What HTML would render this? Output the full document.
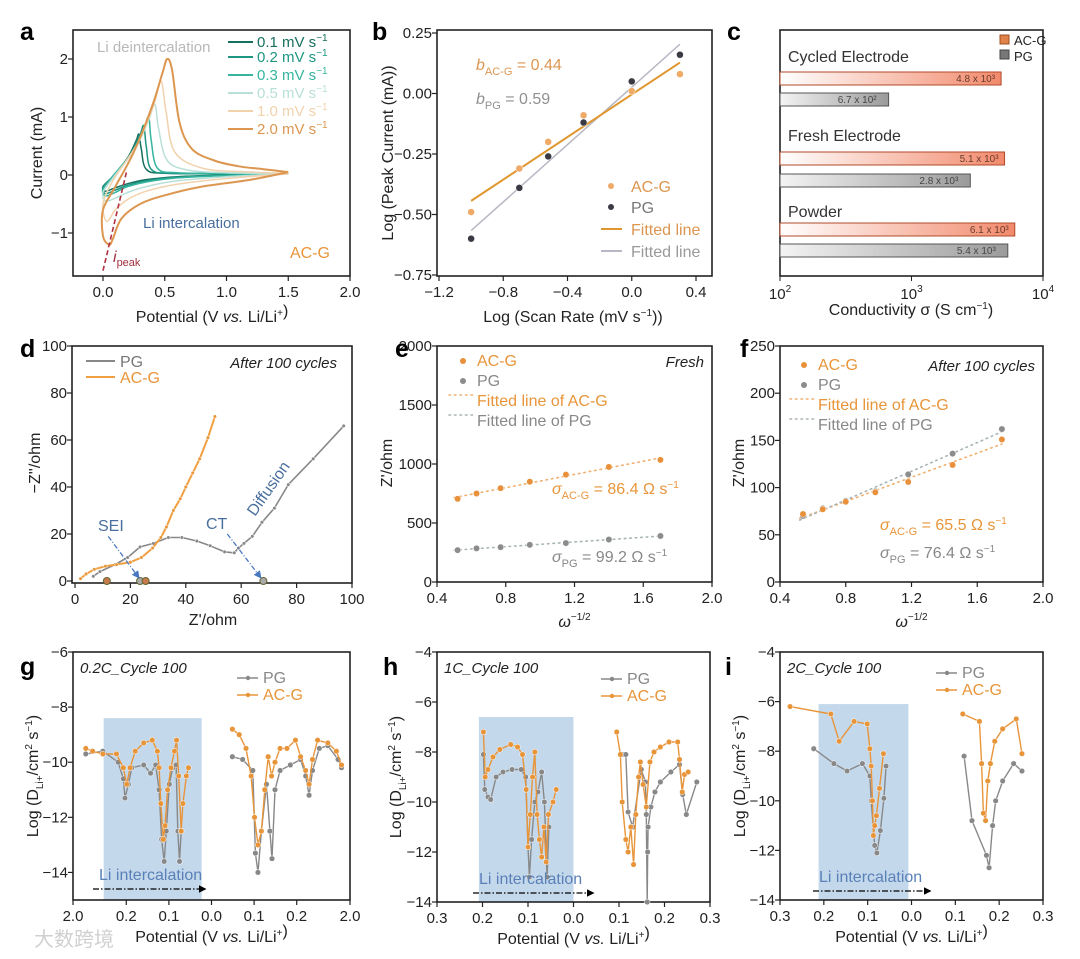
<!DOCTYPE html>
<html><head><meta charset="utf-8"><style>
html,body{margin:0;padding:0;background:#fff;}
svg{display:block;font-family:"Liberation Sans","Noto Sans CJK SC",sans-serif;}
</style></head><body>
<svg id="fig" width="1080" height="959" viewBox="0 0 1080 959" xmlns="http://www.w3.org/2000/svg">
<defs>
<linearGradient id="gOr" x1="0" x2="1"><stop offset="0" stop-color="#fff"/><stop offset="1" stop-color="#f28a6c"/></linearGradient>
<linearGradient id="gGr" x1="0" x2="1"><stop offset="0" stop-color="#f4f4f4"/><stop offset="1" stop-color="#9a9a9a"/></linearGradient>
<marker id="arB" viewBox="0 0 10 10" refX="8" refY="5" markerWidth="6" markerHeight="6" orient="auto"><path d="M0,0L10,5L0,10z" fill="#4a78c0"/></marker>
<marker id="arK" viewBox="0 0 10 10" refX="8" refY="5" markerWidth="6" markerHeight="6" orient="auto"><path d="M0,0L10,5L0,10z" fill="#000"/></marker>
</defs>
</svg>
<script>
// ---------- data ----------
const aRates = ["0.1","0.2","0.3","0.5","1.0","2.0"];
const aColors = ["#17705f","#1f9682","#35b5a0","#b9e0d8","#f2d2ad","#dc9650"];
const aCurve01 = [[1.5,0.02],[1.0,0.0],[0.6,-0.03],[0.35,-0.08],[0.2,-0.15],[0.1,-0.22],[0.02,-0.28],[0.0,-0.2],[0.08,-0.02],[0.2,0.3],[0.27,0.6],[0.29,0.7],[0.31,0.45],[0.35,0.1],[0.5,0.03],[1.0,0.02],[1.5,0.02]];
const aCurve02 = [[1.5,0.02],[1.0,0.0],[0.6,-0.04],[0.35,-0.1],[0.2,-0.18],[0.1,-0.26],[0.02,-0.32],[0.0,-0.22],[0.08,-0.02],[0.22,0.35],[0.3,0.7],[0.33,0.85],[0.35,0.5],[0.39,0.1],[0.55,0.03],[1.0,0.02],[1.5,0.02]];
const aCurve03 = [[1.5,0.02],[1.0,-0.01],[0.6,-0.05],[0.35,-0.12],[0.2,-0.2],[0.1,-0.3],[0.02,-0.36],[0.0,-0.25],[0.08,-0.02],[0.24,0.4],[0.33,0.8],[0.37,1.0],[0.39,0.6],[0.44,0.12],[0.6,0.04],[1.0,0.03],[1.5,0.02]];
const aCurve05 = [[1.5,0.02],[1.0,-0.03],[0.6,-0.1],[0.35,-0.2],[0.2,-0.3],[0.1,-0.4],[0.02,-0.45],[0.0,-0.3],[0.08,-0.05],[0.26,0.45],[0.37,0.95],[0.42,1.22],[0.45,0.8],[0.52,0.25],[0.7,0.08],[1.0,0.04],[1.5,0.02]];
const aCurve10 = [[1.5,0.02],[1.0,-0.06],[0.6,-0.16],[0.35,-0.28],[0.2,-0.42],[0.1,-0.6],[0.03,-0.8],[0.0,-0.5],[0.08,-0.1],[0.28,0.55],[0.41,1.2],[0.47,1.62],[0.51,1.1],[0.58,0.4],[0.8,0.12],[1.1,0.06],[1.5,0.03]];
const aCurve20 = [[1.5,0.05],[1.2,-0.08],[0.8,-0.2],[0.5,-0.35],[0.3,-0.5],[0.15,-0.75],[0.08,-1.1],[0.05,-1.2],[0.0,-1.05],[0.0,-0.6],[0.1,-0.2],[0.25,0.4],[0.4,1.2],[0.48,1.75],[0.52,2.0],[0.56,1.8],[0.62,0.9],[0.72,0.45],[0.9,0.25],[1.1,0.15],[1.3,0.1],[1.5,0.05]];
const aCurves = [aCurve01,aCurve02,aCurve03,aCurve05,aCurve10,aCurve20];

const bLogRate = [-1,-0.7,-0.52,-0.3,0,0.3];
const bACG = [-0.49,-0.31,-0.2,-0.09,0.01,0.08];
const bPG = [-0.6,-0.39,-0.26,-0.12,0.05,0.16];

const cCategories = ["Cycled Electrode","Fresh Electrode","Powder"];
const cACG = [4800,5100,6100];
const cPG = [670,2800,5400];
const cACGLabels = ["4.8 x 10³","5.1 x 10³","6.1 x 10³"];
const cPGLabels = ["6.7 x 10²","2.8 x 10³","5.4 x 10³"];

const dPG = [[6.6,2],[9,4],[14.5,7],[19,10],[23.5,14.5],[28.3,16],[33.7,18.5],[38.6,18.5],[44,17],[48.8,15],[54,12.4],[57.5,12],[59,14],[61,16],[64,19],[67.5,25],[72,31],[77,41],[86,52],[97,66]];
const dACG = [[2,1],[4,3],[7,5],[11,6.3],[15,7],[20,8],[24,10],[28,14],[31,18.5],[33,23],[35.5,30],[38,35],[40,40],[42.5,46],[45,52],[48,61],[50.5,70]];
const dIntercepts = [11.5,23.5,25.5,68];

const eX = [0.52,0.63,0.77,0.94,1.15,1.40,1.70];
const eACG = [705,750,795,850,910,975,1035];
const ePG = [270,285,295,315,330,360,390];
const fX = [0.54,0.66,0.80,0.98,1.18,1.45,1.75];
const fACG = [72,77,85,95,106,124,151];
const fPG = [70,78,86,96,114,136,162];

// bottom row: x given in axis-position units (tick positions listed in *Ticks arrays)
const gTicks = [0,1.25,2.25,3.25,4.25,5.25,6.5];
const gTickLabels = ["2.0","0.2","0.1","0.0","0.1","0.2","2.0"];
const gACG_L = [[0.30,-9.5],[0.46,-9.6],[0.70,-9.7],[1.02,-9.7],[1.18,-10.2],[1.26,-10.8],[1.34,-10.2],[1.46,-9.6],[1.66,-9.3],[1.86,-9.2],[1.98,-9.6],[2.02,-10.2],[2.06,-11.5],[2.12,-12.8],[2.16,-12.3],[2.22,-11],[2.30,-10.2],[2.38,-9.6],[2.43,-9.2],[2.48,-10.5],[2.54,-12.5],[2.58,-11.5],[2.66,-10.5],[2.71,-10.2]];
const gPG_L = [[0.30,-9.7],[0.70,-9.6],[1.06,-10],[1.18,-10.6],[1.22,-11.3],[1.30,-10.8],[1.38,-10.2],[1.66,-10.1],[1.82,-10.4],[1.94,-10.1],[2.02,-11],[2.08,-12.8],[2.14,-13.6],[2.19,-12.5],[2.26,-10.8],[2.34,-10.2],[2.42,-10.1],[2.46,-12.5],[2.50,-13.6],[2.54,-12.5]];
const gACG_R = [[3.74,-8.8],[3.90,-9],[4.06,-9.5],[4.18,-10.5],[4.26,-12],[4.34,-13],[4.42,-12.5],[4.50,-11],[4.58,-9.8],[4.66,-10.5],[4.74,-10],[4.86,-9.5],[5.02,-9.5],[5.22,-9.2],[5.34,-9.8],[5.46,-10.3],[5.54,-10.8],[5.62,-9.9],[5.74,-9.2],[5.98,-9.3],[6.18,-9.6],[6.30,-10.1]];
const gPG_R = [[3.74,-9.8],[3.98,-9.9],[4.22,-10.3],[4.28,-13.3],[4.34,-14],[4.42,-12.5],[4.54,-10.8],[4.62,-12.5],[4.67,-13.5],[4.74,-11],[4.86,-10.3],[5.10,-10.1],[5.34,-9.9],[5.46,-10.5],[5.54,-11.2],[5.62,-10.3],[5.78,-9.5],[5.98,-9.4],[6.22,-9.9],[6.30,-10.2]];

const hTicks = [0,1,2,3,4,5,6];
const hTickLabels = ["0.3","0.2","0.1","0.0","0.1","0.2","0.3"];
const hACG_L = [[1.02,-7.2],[1.06,-9],[1.12,-8.7],[1.23,-8.2],[1.38,-7.9],[1.62,-7.7],[1.77,-7.8],[1.88,-8.1],[1.96,-9.5],[2.0,-11.8],[2.05,-10.5],[2.1,-9],[2.15,-8],[2.2,-10.5],[2.25,-11.5],[2.3,-12.2],[2.35,-11],[2.4,-12.4],[2.45,-10.5],[2.55,-10],[2.62,-9.5]];
const hPG_L = [[1.02,-8.1],[1.05,-9.5],[1.12,-9.8],[1.18,-9.9],[1.3,-9],[1.45,-8.8],[1.65,-8.7],[1.85,-8.7],[1.95,-9],[2.0,-11.8],[2.03,-13],[2.08,-11.5],[2.15,-10],[2.22,-9.6],[2.3,-8.8],[2.36,-10],[2.42,-13],[2.46,-11]];
const hACG_R = [[3.95,-7.2],[4.03,-8.1],[4.07,-10],[4.15,-11.5],[4.2,-12],[4.26,-11],[4.32,-12.5],[4.37,-10.5],[4.43,-9],[4.47,-8.4],[4.53,-9.3],[4.6,-10.2],[4.68,-8.4],[4.77,-8],[4.91,-7.8],[5.1,-7.6],[5.29,-7.6],[5.33,-8.3],[5.39,-9.6],[5.44,-8.9],[5.52,-8.8]];
const hPG_R = [[4.07,-8.1],[4.15,-8.1],[4.2,-10.4],[4.3,-11],[4.49,-8.7],[4.58,-9.2],[4.6,-10.5],[4.62,-14],[4.63,-12],[4.64,-11],[4.70,-10.2],[4.79,-9.6],[4.91,-9.2],[5.14,-8.8],[5.33,-8.5],[5.40,-9.7],[5.48,-10.5],[5.71,-9.2]];

const iTicks = [0,1,2,3,4,5,6];
const iTickLabels = ["0.3","0.2","0.1","0.0","0.1","0.2","0.3"];
const iACG_L = [[0.23,-6.2],[1.16,-6.5],[1.35,-7.6],[1.69,-6.8],[1.99,-6.9],[2.05,-7.9],[2.08,-8.6],[2.11,-10],[2.13,-11.4],[2.16,-11],[2.2,-10.6],[2.27,-9.5],[2.36,-8.1]];
const iPG_L = [[0.77,-7.9],[1.23,-8.5],[1.53,-8.8],[1.88,-8.5],[2.05,-9],[2.08,-10],[2.16,-11.8],[2.21,-12.1],[2.29,-11.2],[2.37,-9.9],[2.42,-8.6]];
const iACG_R = [[4.17,-6.5],[4.55,-6.8],[4.6,-8.5],[4.64,-10.5],[4.69,-10.8],[4.74,-9.2],[4.8,-8.5],[4.9,-7.6],[5.08,-7.1],[5.39,-6.7],[5.52,-8.1]];
const iPG_R = [[4.2,-8.2],[4.38,-10.8],[4.71,-12.2],[4.77,-12.7],[4.85,-11],[4.92,-10],[5.08,-9.2],[5.33,-8.5],[5.52,-8.8]];

// ---------- helpers ----------
const NS="http://www.w3.org/2000/svg";
const svg=document.getElementById('fig');
const OR="#e8953a", GR="#8a8a8a";
const TF=15;
function el(tag,attrs,parent,text){const e=document.createElementNS(NS,tag);for(const k in attrs)e.setAttribute(k,attrs[k]);if(text!==undefined)e.textContent=text;(parent||svg).appendChild(e);return e;}
function lin(d0,d1,r0,r1){return v=>r0+(v-d0)*(r1-r0)/(d1-d0);}
function logS(d0,d1,r0,r1){return v=>r0+(Math.log10(v)-Math.log10(d0))*(r1-r0)/(Math.log10(d1)-Math.log10(d0));}
function grp(name){const g=el('g',{});return g;}
function frame(g,x0,y0,x1,y1){const r=el('rect',{x:x0,y:y0,width:x1-x0,height:y1-y0,fill:'none',stroke:'#222','stroke-width':1.6},g);}
function xTicks(g,xs,vals,labels,y){vals.forEach((v,i)=>{const x=xs(v);el('line',{x1:x,x2:x,y1:y,y2:y+5,stroke:'#222','stroke-width':1.2},g);const t=el('text',{x:x,y:y+21,'text-anchor':'middle','font-size':TF,fill:'#222'},g,labels[i]);});}
function yTicks(g,ys,vals,labels,x){vals.forEach((v,i)=>{const y=ys(v);el('line',{x1:x-5,x2:x,y1:y,y2:y,stroke:'#222','stroke-width':1.2},g);const t=el('text',{x:x-5,y:y+5,'text-anchor':'end','font-size':TF,fill:'#222'},g,labels[i]);});}
function letter(ch,x,y){const t=el('text',{x:x,y:y,'font-size':25,'font-weight':'bold',fill:'#000'},svg,ch);}
function ylab(g,html,x,y){const t=el('text',{x:0,y:0,transform:`translate(${x},${y}) rotate(-90)`,'text-anchor':'middle','font-size':16,fill:'#222'},g);t.innerHTML=html;return t;}
function xlab(g,html,x,y){const t=el('text',{x:x,y:y,'text-anchor':'middle','font-size':16,fill:'#222'},g);t.innerHTML=html;return t;}
function txt(g,s,x,y,attrs,name){const a=Object.assign({x:x,y:y,'font-size':16,fill:'#222'},attrs||{});const t=el('text',a,g);t.innerHTML=s;return t;}
function polyline(g,pts,xs,ys,color,w,name){const p=el('polyline',{points:pts.map(p=>xs(p[0]).toFixed(1)+','+ys(p[1]).toFixed(1)).join(' '),fill:'none',stroke:color,'stroke-width':w||1.4,'stroke-linejoin':'round'},g);return p;}
function dots(g,pts,xs,ys,color,r,name){pts.forEach(p=>{const c=el('circle',{cx:xs(p[0]),cy:ys(p[1]),r:r||2.6,fill:color,stroke:'#fff','stroke-width':0.5},g);});}
function smooth(pts){let d='M'+pts[0][0]+','+pts[0][1];for(let i=0;i<pts.length-1;i++){const p0=pts[i-1]||pts[i],p1=pts[i],p2=pts[i+1],p3=pts[i+2]||p2;const c1=[p1[0]+(p2[0]-p0[0])/6,p1[1]+(p2[1]-p0[1])/6],c2=[p2[0]-(p3[0]-p1[0])/6,p2[1]-(p3[1]-p1[1])/6];d+=`C${c1[0].toFixed(1)},${c1[1].toFixed(1)} ${c2[0].toFixed(1)},${c2[1].toFixed(1)} ${p2[0].toFixed(1)},${p2[1].toFixed(1)}`;}return d;}
function fit(xs,ys){const n=xs.length,mx=xs.reduce((a,b)=>a+b)/n,my=ys.reduce((a,b)=>a+b)/n;let sxy=0,sxx=0;for(let i=0;i<n;i++){sxy+=(xs[i]-mx)*(ys[i]-my);sxx+=(xs[i]-mx)**2;}const m=sxy/sxx;return [m,my-m*mx];}

// ---------- panel a ----------
(function(){const g=grp('panel-a-cv');const X0=73,X1=350,Y0=30,Y1=276;
const xs=lin(0,2,103,350), ys=lin(0,2,175,59);
frame(g,X0,Y0,X1,Y1);
xTicks(g,xs,[0,0.5,1,1.5,2],["0.0","0.5","1.0","1.5","2.0"],Y1);
yTicks(g,ys,[-1,0,1,2],["−1","0","1","2"],X0);
aCurves.forEach((c,i)=>{const p=el('path',{d:smooth(c.map(q=>[xs(q[0]),ys(q[1])])),fill:'none',stroke:aColors[i],'stroke-width':i==5?2:1.5},g);});
const dl=el('line',{x1:xs(0.0),y1:ys(-1.65),x2:xs(0.19),y2:ys(0.05),stroke:'#b03040','stroke-width':1.6,'stroke-dasharray':'5,3'},g);
txt(g,'Li deintercalation',97,52,{fill:'#b8b8b8','font-size':15});
const ly=[47,62,80,98,116,134];
aRates.forEach((r,i)=>{const l=el('line',{x1:228,x2:253,y1:ly[i]-5,y2:ly[i]-5,stroke:aColors[i],'stroke-width':2},g);txt(g,r+' mV s<tspan font-size="10" dy="-6">−1</tspan>',257,ly[i],{fill:aColors[i],'font-size':15},'legend-entry');});
txt(g,'Li intercalation',143,228,{fill:'#4a6f9e','font-size':15});
txt(g,'AC-G',290,258,{fill:OR,'font-size':16});
txt(g,'<tspan font-style="italic">i</tspan><tspan font-size="11" dy="4">peak</tspan>',113,262,{fill:'#a03040','font-size':16},'ipeak-label');
ylab(g,'Current (mA)',42,153);
xlab(g,'Potential (V <tspan font-style="italic">vs.</tspan> Li/Li<tspan font-size="10" dy="-6">+</tspan>)',212,322);
})();
letter('a',20,40);

// ---------- panel b ----------
(function(){const g=grp('panel-b-log-peak');const X0=437,X1=712,Y0=30,Y1=276;
const xs=lin(-1.2,0.4,439,696), ys=lin(0.25,-0.75,33,275);
frame(g,X0,Y0,X1,Y1);
xTicks(g,xs,[-1.2,-0.8,-0.4,0,0.4],["−1.2","−0.8","−0.4","0.0","0.4"],Y1);
yTicks(g,ys,[0.25,0,-0.25,-0.5,-0.75],["0.25","0.00","−0.25","−0.50","−0.75"],X0);
const fa=fit(bLogRate,bACG), fp=fit(bLogRate,bPG);
const l1=el('line',{x1:xs(-1),y1:ys(fp[0]*-1+fp[1]),x2:xs(0.3),y2:ys(fp[0]*0.3+fp[1]),stroke:'#b8b8c4','stroke-width':1.5},g);
const l2=el('line',{x1:xs(-1),y1:ys(fa[0]*-1+fa[1]),x2:xs(0.3),y2:ys(fa[0]*0.3+fa[1]),stroke:'#e0962e','stroke-width':2},g);
dots(g,bLogRate.map((x,i)=>[x,bACG[i]]),xs,ys,'#eeaa66',3.5,'point-acg');
dots(g,bLogRate.map((x,i)=>[x,bPG[i]]),xs,ys,'#3a3a44',3.5,'point-pg');
txt(g,'<tspan font-style="italic">b</tspan><tspan font-size="11" dy="5">AC-G</tspan><tspan dy="-5"> = 0.44</tspan>',476,70,{fill:'#dc9650','font-size':16});
txt(g,'<tspan font-style="italic">b</tspan><tspan font-size="11" dy="5">PG</tspan><tspan dy="-5"> = 0.59</tspan>',476,104,{fill:'#909090','font-size':16});
const lg=[[186,'#eeaa66','AC-G','dot'],[207,'#3a3a44','PG','dot'],[229,'#e0962e','Fitted line','line'],[251,'#b8b8c4','Fitted line','line']];
lg.forEach(e=>{if(e[3]=='dot'){const c=el('circle',{cx:611,cy:e[0],r:3,fill:e[1]},g);}else{const l=el('line',{x1:601,x2:622,y1:e[0],y2:e[0],stroke:e[1],'stroke-width':2},g);}txt(g,e[2],631,e[0]+6,{fill:e[3]=='dot'&&e[2]=='PG'?'#777':(e[1]=='#b8b8c4'?'#999':'#dc9650'),'font-size':16},'legend-entry');});
ylab(g,'Log (Peak Current (mA))',393,153);
xlab(g,'Log (Scan Rate (mV s<tspan font-size="10" dy="-6">−1</tspan><tspan dy="6">))</tspan>',573,322);
})();
letter('b',372,40);

// ---------- panel c ----------
(function(){const g=grp('panel-c-conductivity');const X0=780,X1=1043,Y0=30,Y1=276;
const xs=logS(100,10000,X0,X1);
frame(g,X0,Y0,X1,Y1);
[100,1000,10000].forEach((v,i)=>{const x=xs(v);el('line',{x1:x,x2:x,y1:Y1,y2:Y1+5,stroke:'#222'},g);txt(g,'10<tspan font-size="10" dy="-7">'+(i+2)+'</tspan>',x,Y1+23,{'text-anchor':'middle','font-size':TF},'x-tick-label');});
const catY=[62,141,217], acgY=[72,152,223], pgY=[93,174,244];
cCategories.forEach((c,i)=>{txt(g,c,788,catY[i],{fill:'#333','font-size':16},'category-label');
const r1=el('rect',{x:X0,y:acgY[i],width:xs(cACG[i])-X0,height:13,fill:'url(#gOr)',stroke:'#b04a2a','stroke-width':1},g);
txt(g,cACGLabels[i],xs(cACG[i])-6,acgY[i]+10,{'text-anchor':'end','font-size':10,fill:'#6a3a2a'},'bar-value');
const r2=el('rect',{x:X0,y:pgY[i],width:xs(cPG[i])-X0,height:13,fill:'url(#gGr)',stroke:'#555','stroke-width':1},g);
txt(g,cPGLabels[i],xs(cPG[i])-12,pgY[i]+10,{'text-anchor':'end','font-size':10,fill:'#444'},'bar-value');});
const s1=el('rect',{x:1000,y:35,width:9,height:9,fill:'#e0824a',stroke:'#a05020'},g);
const s2=el('rect',{x:1000,y:50,width:9,height:9,fill:'#777',stroke:'#444'},g);
txt(g,'AC-G',1014,45,{'font-size':13},'legend-entry');txt(g,'PG',1014,61,{'font-size':13},'legend-entry');
xlab(g,'Conductivity σ (S cm<tspan font-size="10" dy="-6">−1</tspan><tspan dy="6">)</tspan>',911,315);
})();
letter('c',727,40);

// ---------- panel d ----------
(function(){const g=grp('panel-d-nyquist');const X0=72,X1=352,Y0=346,Y1=583;
const xs=lin(0,100,75,352), ys=lin(0,100,581,346);
frame(g,X0,Y0,X1,Y1);
xTicks(g,xs,[0,20,40,60,80,100],["0","20","40","60","80","100"],Y1);
yTicks(g,ys,[0,20,40,60,80,100],["0","20","40","60","80","100"],X0);
polyline(g,dPG,xs,ys,'#888',1.6,'line-pg');dots(g,dPG,xs,ys,'#888',1.8,'point-pg');
polyline(g,dACG,xs,ys,'#f0a040',2,'line-acg');dots(g,dACG,xs,ys,'#e8953a',1.8,'point-acg');
dIntercepts.forEach((v,i)=>{const c=el('circle',{cx:xs(v),cy:ys(0),r:3.5,fill:i%2?'#aaa':'#c77a4a',stroke:'#663',"stroke-width":1},g);});
const a1=el('line',{x1:xs(12),y1:ys(19),x2:xs(23),y2:ys(1.5),stroke:'#4a78c0','stroke-width':1.3,'stroke-dasharray':'5,2,1,2','marker-end':'url(#arB)'},g);
const a2=el('line',{x1:xs(55),y1:ys(20),x2:xs(67),y2:ys(1.5),stroke:'#4a78c0','stroke-width':1.3,'stroke-dasharray':'5,2,1,2','marker-end':'url(#arB)'},g);
txt(g,'SEI',98,531,{fill:'#4a6f9e','font-size':16});
txt(g,'CT',206,529,{fill:'#4a6f9e','font-size':16});
txt(g,'Diffusion',0,0,{fill:'#4a6f9e','font-size':16,transform:'translate(255,517) rotate(-55)'});
const lp=el('line',{x1:86,x2:115,y1:361,y2:361,stroke:'#888','stroke-width':2},g);
const la=el('line',{x1:86,x2:115,y1:377,y2:377,stroke:'#f0a040','stroke-width':2},g);
txt(g,'PG',120,367,{fill:'#777','font-size':16},'legend-entry');txt(g,'AC-G',120,383,{fill:'#e8953a','font-size':16},'legend-entry');
txt(g,'After 100 cycles',337,368,{'text-anchor':'end','font-style':'italic','font-size':15});
ylab(g,'−Z\'\'/ohm',40,463);
xlab(g,'Z\'/ohm',213,625);
})();
letter('d',20,357);

// ---------- panel e / f ----------
function warburg(name,X0,X1,Y0,Y1,ymax,yt,xv,acg,pg,title,s1,s2,sx,sy1,sy2,legX,legY,ylabX){
const g=grp(name);const xs=lin(0.4,2.0,X0,X1), ys=lin(0,ymax,Y1,Y0);
frame(g,X0,Y0,X1,Y1);
xTicks(g,xs,[0.4,0.8,1.2,1.6,2.0],["0.4","0.8","1.2","1.6","2.0"],Y1);
yTicks(g,ys,yt,yt.map(String),X0);
const fa=fit(xv,acg), fp=fit(xv,pg);
[[fa,'#f0b070','fit-line-acg'],[fp,'#a8b4b4','fit-line-pg']].forEach(f=>{const l=el('line',{x1:xs(xv[0]-0.02),y1:ys(f[0][0]*(xv[0]-0.02)+f[0][1]),x2:xs(xv[xv.length-1]),y2:ys(f[0][0]*xv[xv.length-1]+f[0][1]),stroke:f[1],'stroke-width':1.6,'stroke-dasharray':'1.5,4','stroke-linecap':'round'},g);});
dots(g,xv.map((x,i)=>[x,pg[i]]),xs,ys,'#8c8c8c',3.2,'point-pg');
dots(g,xv.map((x,i)=>[x,acg[i]]),xs,ys,'#e8903a',3.2,'point-acg');
const c1=el('circle',{cx:legX-14,cy:legY-5,r:3,fill:'#e8903a'},g);
const c2=el('circle',{cx:legX-14,cy:legY+15,r:3,fill:'#8c8c8c'},g);
[[legY+34,'#f0b070'],[legY+54,'#a8b4b4']].forEach(q=>{const l=el('line',{x1:legX-28,x2:legX-4,y1:q[0]-5,y2:q[0]-5,stroke:q[1],'stroke-width':1.6,'stroke-dasharray':'1.5,4','stroke-linecap':'round'},g);});
txt(g,'AC-G',legX,legY,{fill:'#e8953a','font-size':16},'legend-entry');
txt(g,'PG',legX,legY+20,{fill:'#888','font-size':16},'legend-entry');
txt(g,'Fitted line of AC-G',legX,legY+40,{fill:'#e8953a','font-size':16},'legend-entry');
txt(g,'Fitted line of PG',legX,legY+60,{fill:'#888','font-size':16},'legend-entry');
txt(g,title,X1-8,legY+1,{'text-anchor':'end','font-style':'italic','font-size':15});
txt(g,'<tspan font-style="italic">σ</tspan><tspan font-size="11" dy="5">AC-G</tspan><tspan dy="-5"> = '+s1+' Ω s</tspan><tspan font-size="10" dy="-6">−1</tspan>',sx,sy1,{fill:'#e8953a','font-size':16});
txt(g,'<tspan font-style="italic">σ</tspan><tspan font-size="11" dy="5">PG</tspan><tspan dy="-5"> = '+s2+' Ω s</tspan><tspan font-size="10" dy="-6">−1</tspan>',sx,sy2,{fill:'#888','font-size':16});
ylab(g,"Z'/ohm",ylabX,463);
xlab(g,'<tspan font-style="italic">ω</tspan><tspan font-size="10" dy="-7">−1/2</tspan>',(X0+X1)/2,627);
}
warburg('panel-e-warburg-fresh',437,712,346,582,2000,[0,500,1000,1500,2000],eX,eACG,ePG,'Fresh','86.4','99.2',552,494,562,477,366,392);
warburg('panel-f-warburg-cycled',780,1043,346,582,250,[0,50,100,150,200,250],fX,fACG,fPG,'After 100 cycles','65.5','76.4',880,530,558,818,370,744);
letter('e',395,357);letter('f',740,357);

// ---------- bottom row ----------
function diffPanel(name,X0,X1,Y0,Y1,yMin,yMax,yt,ticks,tickLabels,xMax,segs,title,shade,legX,legY,arrowY,arrowX0,arrowX1,ylabX){
const g=grp(name);const xs=lin(0,xMax,X0,X1), ys=lin(yMin,yMax,Y1,Y0);
const sh=el('rect',{x:xs(shade[0]),y:ys(shade[2]),width:xs(shade[1])-xs(shade[0]),height:Y1-ys(shade[2]),fill:'#c4d8ec'},g);
frame(g,X0,Y0,X1,Y1);
ticks.forEach((t,i)=>{const x=xs(t);el('line',{x1:x,x2:x,y1:Y1,y2:Y1+5,stroke:'#222','stroke-width':1.2},g);txt(g,tickLabels[i],x,Y1+21,{'text-anchor':'middle','font-size':TF},'x-tick-label');});
yTicks(g,ys,yt,yt.map(v=>'−'+Math.abs(v)),X0);
segs.forEach(s=>{polyline(g,s[0],xs,ys,s[1],1.4,s[2]);dots(g,s[0],xs,ys,s[1],2.8,s[2]+'-point');});
txt(g,title,X0+7,Y0+21,{'font-style':'italic','font-size':15});
const l1=el('line',{x1:legX-26,x2:legX-5,y1:legY-5,y2:legY-5,stroke:'#888','stroke-width':1.5},g);
el('circle',{cx:legX-15,cy:legY-5,r:2.2,fill:'#888'},g);
const l2=el('line',{x1:legX-26,x2:legX-5,y1:legY+12,y2:legY+12,stroke:OR,'stroke-width':1.5},g);
el('circle',{cx:legX-15,cy:legY+12,r:2.2,fill:OR},g);
txt(g,'PG',legX,legY,{fill:'#888','font-size':16},'legend-entry');
txt(g,'AC-G',legX,legY+17,{fill:OR,'font-size':16},'legend-entry');
txt(g,'Li intercalation',arrowX0+6,arrowY-9,{fill:'#5a80b8','font-size':16},'li-intercalation-label');
const ar=el('line',{x1:arrowX0,x2:arrowX1,y1:arrowY,y2:arrowY,stroke:'#000','stroke-width':1.3,'stroke-dasharray':'6,2,1.5,2','marker-end':'url(#arK)'},g);
ylab(g,'Log (D<tspan font-size="10" dy="5">Li+</tspan><tspan dy="-5">/cm</tspan><tspan font-size="10" dy="-6">2</tspan><tspan dy="6"> s</tspan><tspan font-size="10" dy="-6">−1</tspan><tspan dy="6">)</tspan>',ylabX,(Y0+Y1)/2);
xlab(g,'Potential (V <tspan font-style="italic">vs.</tspan> Li/Li<tspan font-size="10" dy="-6">+</tspan>)',(X0+X1)/2,Y1+42);
}
diffPanel('panel-g-diffusion-0.2C',73,350,652,900,-15,-6,[-6,-8,-10,-12,-14],gTicks,gTickLabels,6.5,
 [[gPG_L,'#888','line-pg'],[gPG_R,'#888','line-pg'],[gACG_L,OR,'line-acg'],[gACG_R,OR,'line-acg']],'0.2C_Cycle 100',[0.72,3.02,-8.4],263,683,889,93,205,38);
diffPanel('panel-h-diffusion-1C',437,710,652,902,-14,-4,[-4,-6,-8,-10,-12,-14],hTicks,hTickLabels,6,
 [[hPG_L,'#888','line-pg'],[hPG_R,'#888','line-pg'],[hACG_L,OR,'line-acg'],[hACG_R,OR,'line-acg']],'1C_Cycle 100',[0.92,3.0,-6.6],627,684,893,473,593,401);
diffPanel('panel-i-diffusion-2C',780,1043,652,900,-14,-4,[-4,-6,-8,-10,-12,-14],iTicks,iTickLabels,6,
 [[iPG_L,'#888','line-pg'],[iPG_R,'#888','line-pg'],[iACG_L,OR,'line-acg'],[iACG_R,OR,'line-acg']],'2C_Cycle 100',[0.88,2.93,-6.1],962,678,891,813,930,745);
letter('g',20,675);letter('h',383,675);letter('i',725,675);

// watermark
const wm=el('text',{x:34,y:946,'font-size':20,fill:'#d0d0d0','font-family':'"Liberation Sans","Noto Sans CJK SC",sans-serif'},svg,'大数跨境');


</script>
</body></html>
